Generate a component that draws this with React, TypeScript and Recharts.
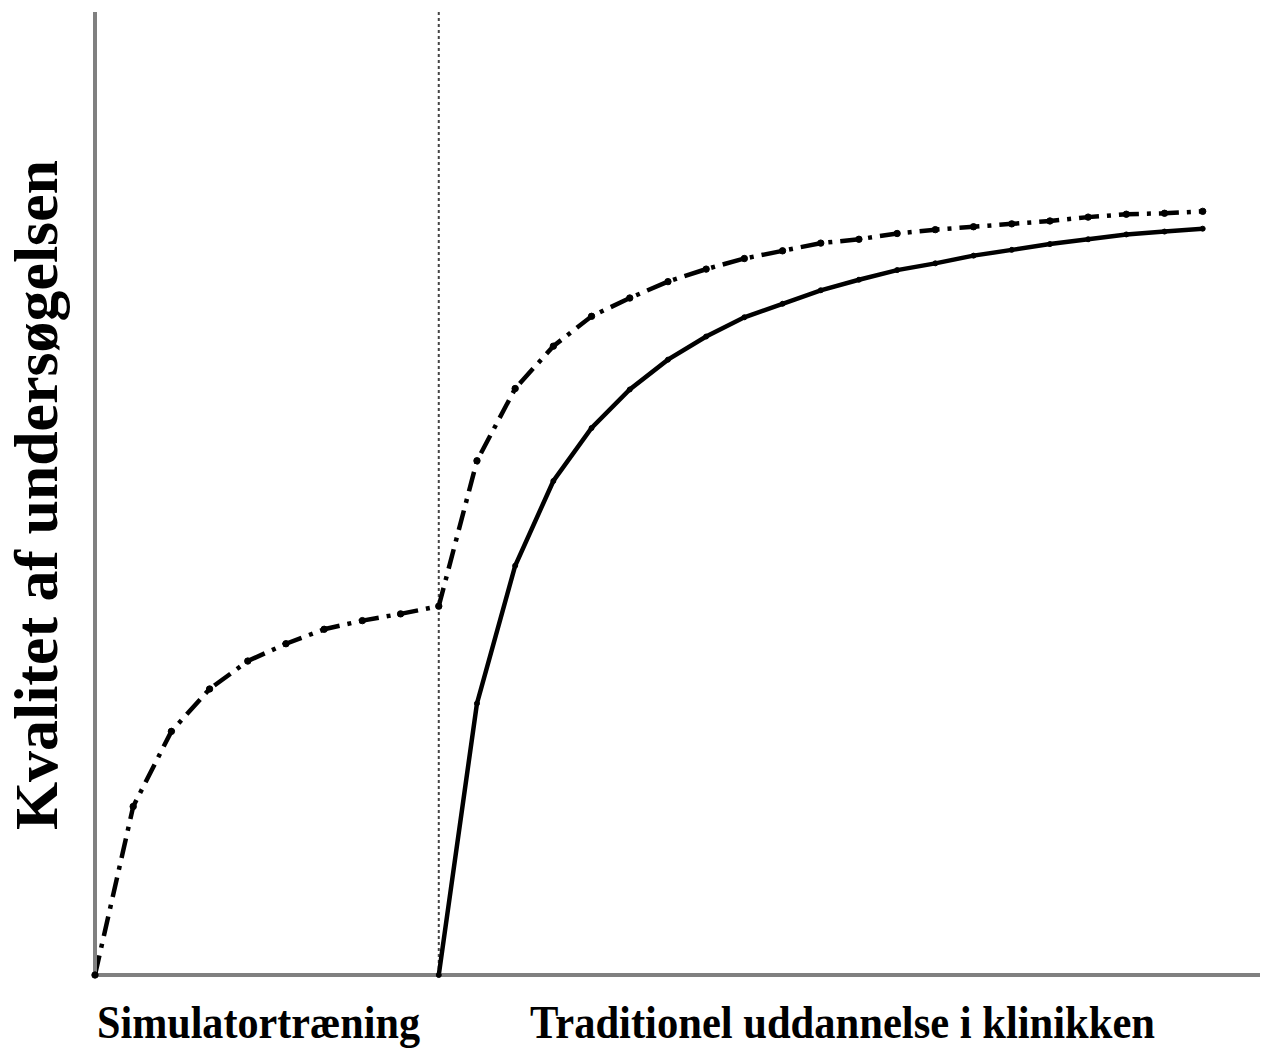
import React from "react";
import {
  LineChart,
  Line,
  XAxis,
  YAxis,
  ReferenceLine,
  Customized,
} from "recharts";

// step index along the training timeline (0..29)
const steps = Array.from({ length: 30 }, (_, i) => i);

// dash-dot curve: simulator training first, then clinic
const simThenClinic = [
  0, 17.5, 25.3, 29.7, 32.6, 34.4, 35.9, 36.8, 37.5, 38.3,
  53.4, 60.9, 65.3, 68.4, 70.3, 72.0, 73.3, 74.4, 75.2, 76.0,
  76.4, 77.0, 77.4, 77.7, 78.0, 78.3, 78.7, 79.0, 79.1, 79.3,
];

// solid curve: traditional clinic training only (starts at step 9)
const clinicOnly = [
  null, null, null, null, null, null, null, null, null, 0,
  28.2, 42.5, 51.3, 56.8, 60.8, 63.9, 66.3, 68.3, 69.7, 71.1,
  72.2, 73.2, 73.9, 74.7, 75.3, 75.9, 76.4, 76.9, 77.2, 77.5,
];

const SWITCH_AT = 9;
const Y_LABEL = "Kvalitet af undersøgelsen";
const X_LABEL_LEFT = "Simulatortræning";
const X_LABEL_RIGHT = "Traditionel uddannelse i klinikken";

const rows = steps.map((s, i) => ({
  s,
  sim: simThenClinic[i],
  clinic: clinicOnly[i],
}));

const font = '"Liberation Serif", "Times New Roman", serif';

const Labels = () => (
  <g fontFamily={font} fontWeight="bold" fill="#000">
    <text
      transform="translate(57, 495) rotate(-90)"
      textAnchor="middle"
      fontSize={62}
      textLength={670}
      lengthAdjust="spacingAndGlyphs"
    >
      {Y_LABEL}
    </text>
    <text
      x={97}
      y={1038}
      fontSize={46}
      textLength={323}
      lengthAdjust="spacingAndGlyphs"
    >
      {X_LABEL_LEFT}
    </text>
    <text
      x={530}
      y={1038}
      fontSize={46}
      textLength={625}
      lengthAdjust="spacingAndGlyphs"
    >
      {X_LABEL_RIGHT}
    </text>
  </g>
);

export default function App() {
  return (
    <div style={{ width: 1263, height: 1057, background: "#fff" }}>
      <style>{`body{margin:0;}`}</style>
      <LineChart
        width={1263}
        height={1057}
        data={rows}
        margin={{ top: 12, right: 3, bottom: 0, left: 0 }}
      >
        <XAxis
          dataKey="s"
          type="number"
          domain={[0, 30.5]}
          height={82}
          tick={false}
          tickLine={false}
          axisLine={{ stroke: "#808080", strokeWidth: 4 }}
        />
        <YAxis
          type="number"
          domain={[0, 100]}
          width={95}
          tick={false}
          tickLine={false}
          axisLine={{ stroke: "#808080", strokeWidth: 4 }}
        />
        <ReferenceLine
          x={SWITCH_AT}
          stroke="#444"
          strokeWidth={2}
          strokeDasharray="3 3"
        />
        <Line
          dataKey="sim"
          type="linear"
          stroke="#000"
          strokeWidth={4.5}
          strokeDasharray="20 8 4 8"
          dot={{ r: 3.2, fill: "#000", stroke: "#000", strokeWidth: 1 }}
          isAnimationActive={false}
        />
        <Line
          dataKey="clinic"
          type="linear"
          stroke="#000"
          strokeWidth={4.5}
          dot={{ r: 2.5, fill: "#000", stroke: "#000", strokeWidth: 1 }}
          connectNulls={false}
          isAnimationActive={false}
        />
        <Customized component={Labels} />
      </LineChart>
    </div>
  );
}
